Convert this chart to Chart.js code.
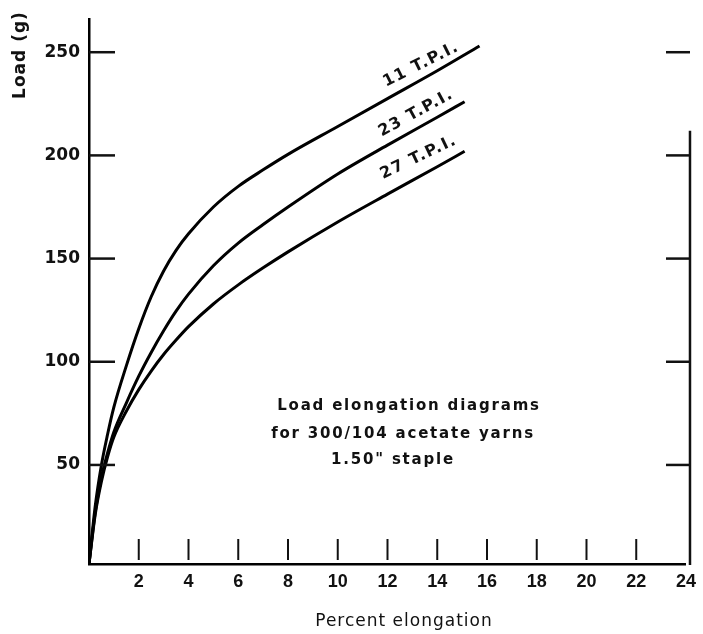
<!DOCTYPE html>
<html>
<head>
<meta charset="utf-8">
<title>Load elongation diagrams</title>
<script src="https://cdn.jsdelivr.net/npm/chart.js@4.4.1/dist/chart.umd.min.js"></script>
<style>
    html, body { margin: 0; padding: 0; background: #fff; }
    #wrap { width: 703px; height: 634px; }
</style>
</head>
<body>
<div id="wrap"><canvas id="chart" width="703" height="634"></canvas></div>
<script>
// values
const xTicks = [2, 4, 6, 8, 10, 12, 14, 16, 18, 20, 22, 24];
const yTicks = [50, 100, 150, 200, 250];

const elong11 = [0, 0.25, 0.5, 0.75, 1, 1.5, 2, 2.5, 3, 3.5, 4, 5, 6, 7, 8, 10, 12, 14, 15.7];
const load11  = [2, 30, 50, 65, 78, 98, 116, 131.5, 144, 154, 162, 175, 185, 193, 200.5, 214, 227.5, 241, 253];

const elong23 = [0, 0.25, 0.5, 0.75, 1, 1.5, 2, 2.5, 3, 3.5, 4, 5, 6, 7, 8, 10, 12, 14, 15.1];
const load23  = [2, 27, 44, 56, 66, 80, 93, 104.5, 115, 124.5, 132.75, 146.5, 157.5, 166.5, 175, 191, 205, 218.5, 226];

const elong27 = [0, 0.25, 0.5, 0.75, 1, 1.5, 2, 2.5, 3, 3.5, 4, 5, 6, 7, 8, 10, 12, 14, 15.1];
const load27  = [2, 26, 42, 54, 63.5, 76, 86.5, 95.5, 103.5, 110.5, 117, 128, 137.25, 145.5, 153.25, 167.75, 181.25, 194.5, 202];

const curveNames = ['11 T.P.I.', '23 T.P.I.', '27 T.P.I.'];
const noteLines = ['Load elongation diagrams', 'for 300/104 acetate yarns', '1.50" staple'];

const ink = '#111';
const face = '"DejaVu Sans", "Liberation Sans", sans-serif';

function toPoints(xs, ys) {
    return xs.map((x, i) => ({ x: x, y: ys[i] }));
}

function stroke(ctx, x1, y1, x2, y2) {
    ctx.beginPath();
    ctx.moveTo(x1, y1);
    ctx.lineTo(x2, y2);
    ctx.stroke();
}

function text(ctx, str, x, y, font, angle) {
    ctx.save();
    ctx.translate(x, y);
    if (angle) ctx.rotate(angle);
    ctx.font = font;
    ctx.fillText(str, 0, 0);
    ctx.restore();
}

// inward tick marks, the partial right axis and all the loose lettering
const decorPlugin = {
    id: 'decor',
    afterDraw(chart) {
        const ctx = chart.ctx;
        const a = chart.chartArea;
        const x = chart.scales.x;
        const y = chart.scales.y;

        ctx.save();
        ctx.strokeStyle = ink;
        ctx.fillStyle = ink;
        ctx.lineWidth = 2.5;

        yTicks.forEach(v => {
            const py = y.getPixelForValue(v);
            stroke(ctx, a.left, py, a.left + 26, py);
            stroke(ctx, a.right - 20, py, a.right + 4, py);
        });
        stroke(ctx, a.right + 4, y.getPixelForValue(212), a.right + 4, a.bottom + 1);

        ctx.lineWidth = 2;
        xTicks.filter(v => v < 24).forEach(v => {
            const px = x.getPixelForValue(v);
            stroke(ctx, px, a.bottom - 25, px, a.bottom - 4);
        });

        ctx.textAlign = 'center';
        ctx.textBaseline = 'middle';
        ctx.letterSpacing = '1px';
        text(ctx, 'Load (g)', 21, 55, 'bold 17px ' + face, -Math.PI / 2);
        text(ctx, 'Percent elongation', 404, 622, '17px ' + face);

        ctx.textBaseline = 'alphabetic';
        ctx.letterSpacing = '1.8px';
        const noteX = [409, 403, 393];
        const noteY = [410, 438, 464];
        noteLines.forEach((s, i) => text(ctx, s, noteX[i], noteY[i], 'bold 15px ' + face));

        ctx.textBaseline = 'middle';
        ctx.letterSpacing = '1.5px';
        const labelAt = [[13.35, 244], [13.15, 220.5], [13.25, 199]];
        const tilt = [-26.6, -28.5, -25.5];
        curveNames.forEach((s, i) => {
            const px = x.getPixelForValue(labelAt[i][0]);
            const py = y.getPixelForValue(labelAt[i][1]);
            text(ctx, s, px, py, 'bold 16px ' + face, tilt[i] * Math.PI / 180);
        });
        ctx.restore();
    }
};

const lineStyle = {
    borderColor: '#000',
    borderWidth: 3,
    pointRadius: 0,
    fill: false,
    cubicInterpolationMode: 'monotone'
};

new Chart(document.getElementById('chart'), {
    type: 'line',
    data: {
        datasets: [
            { label: curveNames[0], data: toPoints(elong11, load11), ...lineStyle },
            { label: curveNames[1], data: toPoints(elong23, load23), ...lineStyle },
            { label: curveNames[2], data: toPoints(elong27, load27), ...lineStyle }
        ]
    },
    options: {
        responsive: false,
        devicePixelRatio: 1,
        animation: false,
        layout: { padding: { top: 12, right: 9, left: 0, bottom: 0 } },
        plugins: {
            legend: { display: false },
            tooltip: { enabled: false }
        },
        scales: {
            x: {
                type: 'linear',
                min: 0,
                max: 24,
                afterBuildTicks: scale => { scale.ticks = xTicks.map(v => ({ value: v })); },
                afterFit: scale => { scale.height = 70; },
                grid: { display: false, drawTicks: false },
                border: { display: true, color: '#000', width: 2.5 },
                ticks: {
                    color: ink,
                    padding: 7,
                    maxRotation: 0,
                    font: { family: '"Liberation Sans", Arial, sans-serif', size: 18, weight: 'bold' }
                }
            },
            y: {
                type: 'linear',
                min: 2,
                max: 266,
                afterBuildTicks: scale => { scale.ticks = yTicks.map(v => ({ value: v })); },
                afterFit: scale => { scale.width = 89; },
                grid: { display: false, drawTicks: false },
                border: { display: true, color: '#000', width: 2.5 },
                ticks: {
                    color: ink,
                    padding: 9,
                    font: { family: face, size: 17, weight: 'bold' }
                }
            }
        }
    },
    plugins: [decorPlugin]
});
</script>
</body>
</html>
